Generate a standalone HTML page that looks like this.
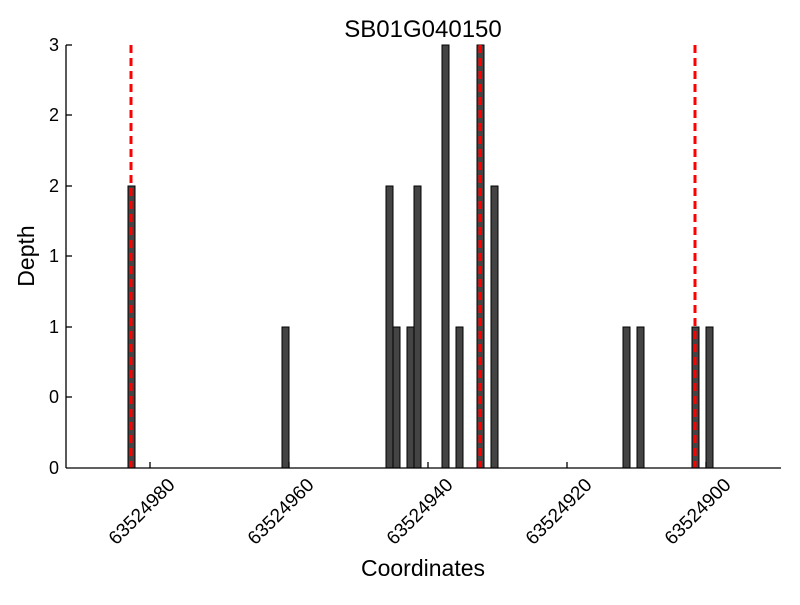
<!DOCTYPE html>
<html><head><style>body{margin:0;background:#fff}</style></head><body>
<svg width="800" height="600" xmlns="http://www.w3.org/2000/svg" font-family="Liberation Sans, sans-serif">
<rect width="800" height="600" fill="#fff"/>
<text x="423" y="37" font-size="24" text-anchor="middle">SB01G040150</text>
<g fill="#444" stroke="#000" stroke-width="1">
<rect x="128" y="186" width="7" height="282"/>
<rect x="282" y="327" width="7" height="141"/>
<rect x="386" y="186" width="7" height="282"/>
<rect x="393" y="327" width="7" height="141"/>
<rect x="407" y="327" width="7" height="141"/>
<rect x="414" y="186" width="7" height="282"/>
<rect x="442" y="45" width="7" height="423"/>
<rect x="456" y="327" width="7" height="141"/>
<rect x="477" y="45" width="7" height="423"/>
<rect x="491" y="186" width="7" height="282"/>
<rect x="623" y="327" width="7" height="141"/>
<rect x="637" y="327" width="7" height="141"/>
<rect x="692" y="327" width="7" height="141"/>
<rect x="706" y="327" width="7" height="141"/>
</g>
<g stroke="red" stroke-width="3" stroke-dasharray="8,5">
<line x1="131" y1="45" x2="131" y2="468"/>
<line x1="480" y1="45" x2="480" y2="468"/>
<line x1="695" y1="45" x2="695" y2="468"/>
</g>
<g stroke="#000" stroke-width="1.3">
<line x1="66" y1="45" x2="66" y2="468"/>
<line x1="66" y1="468" x2="781" y2="468"/>
<line x1="66" y1="45" x2="72" y2="45"/><line x1="66" y1="115" x2="72" y2="115"/>
<line x1="66" y1="186" x2="72" y2="186"/><line x1="66" y1="256" x2="72" y2="256"/>
<line x1="66" y1="327" x2="72" y2="327"/><line x1="66" y1="397" x2="72" y2="397"/>
<line x1="150" y1="462" x2="150" y2="468"/><line x1="289" y1="462" x2="289" y2="468"/>
<line x1="428" y1="462" x2="428" y2="468"/><line x1="567" y1="462" x2="567" y2="468"/>
<line x1="706" y1="462" x2="706" y2="468"/>
</g>
<g font-size="18" text-anchor="end">
<text x="59" y="51">3</text><text x="59" y="121">2</text><text x="59" y="192">2</text>
<text x="59" y="262">1</text><text x="59" y="333">1</text><text x="59" y="403">0</text><text x="59" y="474">0</text>
</g>
<g font-size="19" text-anchor="end">
<text transform="translate(176,486) rotate(-45)">63524980</text>
<text transform="translate(315,486) rotate(-45)">63524960</text>
<text transform="translate(454,486) rotate(-45)">63524940</text>
<text transform="translate(593,486) rotate(-45)">63524920</text>
<text transform="translate(732,486) rotate(-45)">63524900</text>
</g>
<text x="423" y="576" font-size="23" text-anchor="middle">Coordinates</text>
<text transform="translate(34,256) rotate(-90)" font-size="23" text-anchor="middle">Depth</text>
</svg>
</body></html>
